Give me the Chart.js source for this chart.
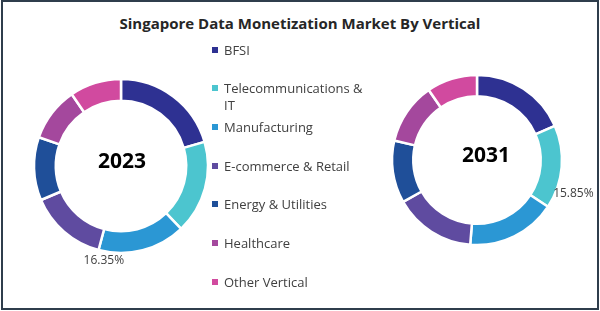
<!DOCTYPE html>
<html>
<head>
<meta charset="utf-8">
<script src="https://cdn.jsdelivr.net/npm/chart.js@4.4.1/dist/chart.umd.min.js"></script>
<style>
    html, body { margin: 0; padding: 0; background: #fff; }
    body { width: 600px; height: 311px; position: relative; overflow: hidden; font-family: 'Open Sans', sans-serif; }
    #frame { position: absolute; left: 1px; top: 0; width: 598px; height: 310px; box-sizing: border-box; border: 2px solid #2f3d4c; }
    #title { position: absolute; left: 0; width: 600px; top: 13px; text-align: center; font-size: 15px; font-weight: bold; color: #262626; }
    .donut { position: absolute; width: 240px; height: 240px; }
    #chart2023 { left: 1px; top: 46px; }
    #chart2031 { left: 357px; top: 40px; }
    #legend { position: absolute; left: 212px; top: 0; }
    .item { position: absolute; left: 0; white-space: nowrap; font-size: 13px; color: #404040; line-height: 17px; }
    .item span.box { display: inline-block; width: 6px; height: 6px; margin-right: 6px; vertical-align: 2px; }
    .item .txt { display: inline-block; vertical-align: top; }
</style>
</head>
<body>
<div id="frame"></div>
<div id="title">Singapore Data Monetization Market By Vertical</div>
<div class="donut" id="chart2023"><canvas id="c2023"></canvas></div>
<div class="donut" id="chart2031"><canvas id="c2031"></canvas></div>
<div id="legend"></div>
<script>
    // Data
    const verticals = ["BFSI", "Telecommunications & IT", "Manufacturing", "E-commerce & Retail", "Energy & Utilities", "Healthcare", "Other Vertical"];
    const share2023 = [20.6, 17.4, 16.35, 14.5, 11.8, 10.1, 9.6];
    const share2031 = [18.4, 15.85, 17.0, 15.5, 11.9, 11.7, 9.6];
    const colors = ['#2e3192', '#4cc5cf', '#2b97d4', '#5f4ba0', '#1f4f99', '#a4489d', '#d14a9f'];

    // Legend (built from the same arrays)
    const legend = document.getElementById("legend");
    const legendTops = [42, 80, 119, 158, 196, 235, 274];
    verticals.forEach((v, i) => {
        const div = document.createElement("div");
        div.className = "item";
        div.style.top = legendTops[i] + "px";
        const box = document.createElement("span");
        box.className = "box";
        box.style.background = colors[i];
        const txt = document.createElement("span");
        txt.className = "txt";
        txt.innerHTML = v === "Telecommunications & IT" ? "Telecommunications &amp;<br>IT" : v;
        div.appendChild(box);
        div.appendChild(txt);
        legend.appendChild(div);
    });

    // Center year + one data label per doughnut
    const donutText = {
        id: 'donutText',
        afterDraw(chart, args, opts) {
            const ctx = chart.ctx;
            const meta = chart.getDatasetMeta(0);
            const arc0 = meta.data[0];
            const cx = arc0.x, cy = arc0.y;
            ctx.save();
            ctx.fillStyle = '#000';
            ctx.font = "bold 21px 'Open Sans', sans-serif";
            ctx.textAlign = 'center';
            ctx.textBaseline = 'middle';
            ctx.fillText(opts.year, cx + opts.yearDx, cy - 4);

            const arc = meta.data[opts.index];
            const a = arc.startAngle + (arc.endAngle - arc.startAngle) * opts.t;
            const r = arc.outerRadius + opts.gap;
            const value = chart.data.datasets[0].data[opts.index];
            ctx.fillStyle = '#404040';
            ctx.font = "12px 'Open Sans', sans-serif";
            ctx.fillText(value.toFixed(2) + '%', cx + Math.cos(a) * r, cy + Math.sin(a) * r);
            ctx.restore();
        }
    };

    function makeDonut(id, data, radius, labelOpts) {
        return new Chart(document.getElementById(id), {
            type: 'doughnut',
            data: {
                labels: verticals,
                datasets: [{
                    data: data,
                    backgroundColor: colors,
                    borderColor: '#ffffff',
                    borderWidth: 2.5
                }]
            },
            options: {
                responsive: true,
                maintainAspectRatio: false,
                animation: false,
                radius: radius,
                cutout: '75%',
                layout: { padding: 0 },
                plugins: {
                    legend: { display: false },
                    tooltip: { enabled: false },
                    donutText: labelOpts
                }
            },
            plugins: [donutText]
        });
    }

    makeDonut('c2023', share2023, 87, { year: '2023', yearDx: 1, index: 2, t: 0.92, gap: 9 });
    makeDonut('c2031', share2031, 85, { year: '2031', yearDx: 9, index: 1, t: 0.75, gap: 17 });
</script>
</body>
</html>
